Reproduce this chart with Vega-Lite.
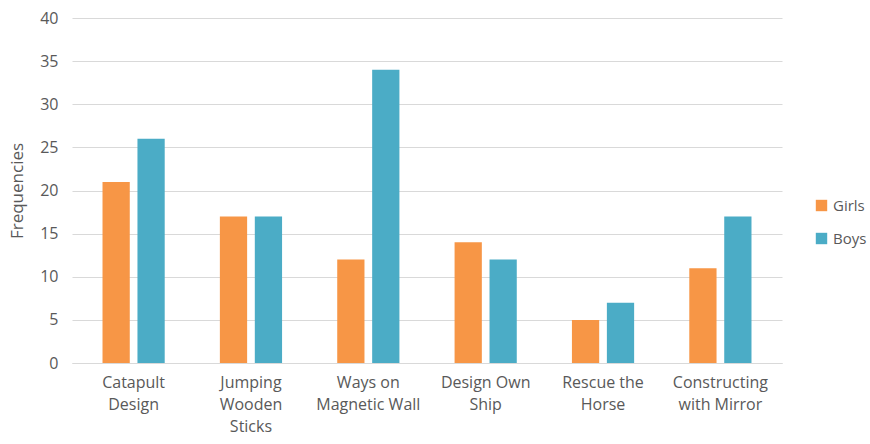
{
  "$schema": "https://vega.github.io/schema/vega-lite/v6.json",
  "width": 710,
  "height": 345,
  "autosize": {"type": "none"},
  "padding": {"left": 72, "top": 18, "right": 88, "bottom": 81},
  "background": "white",
  "config": {"view": {"stroke": null}, "font": "Open Sans"},
  "data": {"values": [
    {"activity": "Catapult|Design", "gender": "Girls", "freq": 21},
    {"activity": "Catapult|Design", "gender": "Boys", "freq": 26},
    {"activity": "Jumping|Wooden|Sticks", "gender": "Girls", "freq": 17},
    {"activity": "Jumping|Wooden|Sticks", "gender": "Boys", "freq": 17},
    {"activity": "Ways on|Magnetic Wall", "gender": "Girls", "freq": 12},
    {"activity": "Ways on|Magnetic Wall", "gender": "Boys", "freq": 34},
    {"activity": "Design Own|Ship", "gender": "Girls", "freq": 14},
    {"activity": "Design Own|Ship", "gender": "Boys", "freq": 12},
    {"activity": "Rescue the|Horse", "gender": "Girls", "freq": 5},
    {"activity": "Rescue the|Horse", "gender": "Boys", "freq": 7},
    {"activity": "Constructing|with Mirror", "gender": "Girls", "freq": 11},
    {"activity": "Constructing|with Mirror", "gender": "Boys", "freq": 17}
  ]},
  "mark": {"type": "bar"},
  "encoding": {
    "x": {
      "field": "activity", "type": "nominal", "sort": null,
      "scale": {"paddingInner": 0.47, "paddingOuter": 0.26},
      "axis": {
        "title": null, "labelAngle": 0, "ticks": false, "domainColor": "#d9d9d9",
        "labelExpr": "split(datum.label, '|')", "labelFontSize": 16, "labelColor": "#595959",
        "labelLineHeight": 22, "labelPadding": 11, "labelLimit": 200
      }
    },
    "xOffset": {"field": "gender", "type": "nominal", "sort": ["Girls", "Boys"], "scale": {"paddingInner": 0.22}},
    "y": {
      "field": "freq", "type": "quantitative",
      "scale": {"domain": [0, 40], "nice": false},
      "axis": {
        "title": "Frequencies", "titleFontSize": 17, "titleFontWeight": "normal", "titleColor": "#595959",
        "titlePadding": 13, "values": [0,5,10,15,20,25,30,35,40], "labelOverlap": false,
        "domain": false, "ticks": false, "gridColor": "#d9d9d9",
        "labelFontSize": 16, "labelColor": "#595959", "labelPadding": 14
      }
    },
    "color": {
      "field": "gender", "type": "nominal", "sort": ["Girls", "Boys"],
      "scale": {"domain": ["Girls", "Boys"], "range": ["#F79646", "#4BACC6"]},
      "legend": {
        "title": null, "orient": "none", "legendX": 742, "legendY": 180,
        "symbolType": "square", "symbolSize": 130, "symbolStrokeWidth": 0,
        "labelFontSize": 15, "labelColor": "#595959", "rowPadding": 17, "labelOffset": 4
      }
    }
  }
}
